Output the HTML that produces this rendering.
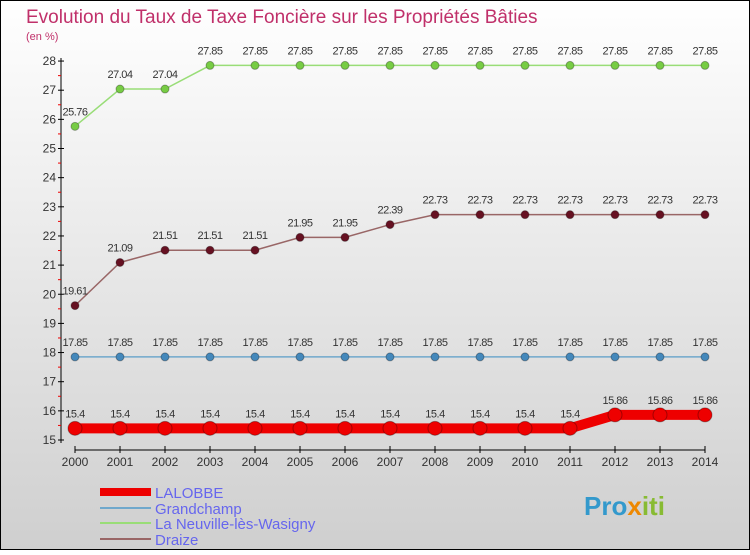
<!DOCTYPE html>
<html><head><meta charset="utf-8"><style>
body{margin:0;width:750px;height:550px;overflow:hidden;font-family:"Liberation Sans",sans-serif}
</style></head><body>
<svg width="750" height="550" viewBox="0 0 750 550" xmlns="http://www.w3.org/2000/svg">
<defs><linearGradient id="bg" x1="0" y1="0" x2="0" y2="1"><stop offset="0" stop-color="#ffffff"/><stop offset="1" stop-color="#cfcfcf"/></linearGradient></defs>
<rect x="0.5" y="0.5" width="749" height="549" fill="url(#bg)" stroke="#000"/>
<text x="26" y="23" font-size="19" fill="#c0306a">Evolution du Taux de Taxe Foncière sur les Propriétés Bâties</text>
<text x="26" y="40" font-size="11" fill="#c0306a">(en %)</text>
<g id="axes"></g><g id="series"></g>
<g font-size="15" fill="#6666ee">
<rect x="100" y="488" width="51" height="8" fill="#ee0000"/>
<text x="155" y="498">LALOBBE</text>
<rect x="100" y="507" width="51" height="2" fill="#6fa8cc"/>
<text x="155" y="514">Grandchamp</text>
<rect x="100" y="522" width="51" height="2" fill="#99dd77"/>
<text x="155" y="529">La Neuville-lès-Wasigny</text>
<rect x="100" y="538" width="51" height="2" fill="#996666"/>
<text x="155" y="545">Draize</text>
</g>
<text x="584" y="515" font-size="26" font-weight="bold" fill="#3399cc">Pro<tspan fill="#ee8800">x</tspan><tspan fill="#88bb33">iti</tspan></text>
</svg>
<script>
const years=[2000,2001,2002,2003,2004,2005,2006,2007,2008,2009,2010,2011,2012,2013,2014];
const lalobbe=[15.4,15.4,15.4,15.4,15.4,15.4,15.4,15.4,15.4,15.4,15.4,15.4,15.86,15.86,15.86];
const grandchamp=[17.85,17.85,17.85,17.85,17.85,17.85,17.85,17.85,17.85,17.85,17.85,17.85,17.85,17.85,17.85];
const neuville=[25.76,27.04,27.04,27.85,27.85,27.85,27.85,27.85,27.85,27.85,27.85,27.85,27.85,27.85,27.85];
const draize=[19.61,21.09,21.51,21.51,21.51,21.95,21.95,22.39,22.73,22.73,22.73,22.73,22.73,22.73,22.73];
const yTicks=[15,16,17,18,19,20,21,22,23,24,25,26,27,28];
const NS="http://www.w3.org/2000/svg";
const X=i=>75+i*45, Y=v=>440-(v-15)*29.15;
function mk(t,a,p){const e=document.createElementNS(NS,t);for(const k in a)e.setAttribute(k,a[k]);p.appendChild(e);return e;}
const ax=document.getElementById('axes');
let l=mk('line',{x1:61,y1:58,x2:61,y2:443,stroke:'#000'},ax);


l=mk('line',{x1:75,y1:450,x2:705,y2:450,stroke:'#000'},ax);


yTicks.forEach(v=>{
 mk('line',{x1:58,y1:Y(v),x2:64,y2:Y(v),stroke:'#000'},ax);
 if(v<28) mk('line',{x1:58,y1:Y(v+0.5),x2:61,y2:Y(v+0.5),stroke:'#e00'},ax);
 const t=mk('text',{x:56,y:Y(v)+4,'font-size':12,fill:'#333','text-anchor':'end'},ax);t.textContent=v;
 
 
});
years.forEach((yr,i)=>{
 mk('line',{x1:X(i),y1:446,x2:X(i),y2:453,stroke:'#000'},ax);
 const t=mk('text',{x:X(i),y:466,'font-size':12,fill:'#333','text-anchor':'middle'},ax);t.textContent=yr;
 
 
});
const sg=document.getElementById('series');
function series(name,data,color,fill,w,r){
 const g=mk('g',{},sg);
 
 
 mk('polyline',{points:data.map((v,i)=>X(i)+','+Y(v)).join(' '),fill:'none',stroke:color,'stroke-width':w},g);
 data.forEach((v,i)=>{
  const c=mk('circle',{cx:X(i),cy:Y(v),r:r,fill:fill,stroke:'rgba(0,0,0,0.3)'},g);
  
  
  const t=mk('text',{x:X(i),y:Y(v)-11,'font-size':11,fill:'#333','text-anchor':'middle','letter-spacing':'-0.5'},g);
  t.textContent=String(v).replace(/0$/,'');
  
  
 });
}
series('neuville',neuville,'#99dd77','#77cc44',1.5,4);
series('draize',draize,'#996666','#661122',1.5,4);
series('grandchamp',grandchamp,'#6fa8cc','#4488bb',1.5,4);
series('lalobbe',lalobbe,'#ee0000','#ee0000',10,7);
</script>
</body></html>
